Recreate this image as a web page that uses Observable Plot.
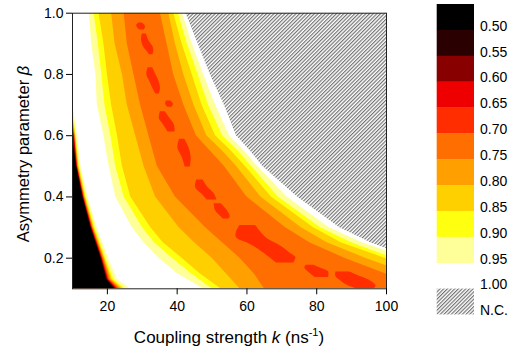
<!DOCTYPE html>
<html><head><meta charset="utf-8">
<script src="https://cdn.jsdelivr.net/npm/d3@7"></script>
<script src="https://cdn.jsdelivr.net/npm/@observablehq/plot@0.6"></script>
<style>
body{margin:0;background:#fff;font-family:"Liberation Sans",Arial,sans-serif;}
#wrap{position:relative;width:520px;height:353px;overflow:hidden;}
#wrap svg{position:absolute;left:0;top:0;}
</style></head><body><div id="wrap"></div>
<script>
// ---------- data ----------
const xTicks = [20, 40, 60, 80, 100];
const yTicks = [0.2, 0.4, 0.6, 0.8, 1.0];
const legendLabels = ["0.50","0.55","0.60","0.65","0.70","0.75","0.80","0.85","0.90","0.95","1.00"];
const legendColors = ["#000000","#2b0000","#880000","#ee0000","#ff2d00","#ff6e00","#ffa000","#ffd000","#ffff10","#ffff99"];

// trough (central band) boundaries: k at each beta
const betaTrough = [0.1, 0.15, 0.2, 0.25, 0.3, 0.4, 0.5, 0.55, 0.6, 0.7, 0.8, 0.9, 1.0];
const leftLY   = [47.5, 40, 34.8, 30.5, 27.1, 22.4, 20.5, 19.7, 19.0, 17.1, 16.7, 15.5, 14.8];
const leftY    = [50, 44, 38.6, 33.5, 30.0, 24.8, 22.4, 21.7, 21.0, 19.3, 18.4, 17.4, 16.2];
const leftGold = [52.5, 46.5, 41.4, 36.0, 32.4, 26.7, 24.3, 23.6, 22.9, 21.2, 20.0, 19.0, 17.6];
const leftOL   = [58, 54, 50, 45, 40.5, 33.8, 30.5, 29.3, 28.1, 25.7, 24.3, 22.2, 21.2];
const leftO    = [65, 62, 58, 53, 48.1, 39.5, 34.3, 33.1, 31.9, 29.5, 27.6, 25.7, 24.8];
const rightO    = [110, 99.5, 88, 78, 71.0, 60.0, 53.5, 49.5, 45.5, 41.9, 39.0, 37.1, 35.2];
const rightOL   = [118, 106, 94, 83, 75.5, 64.0, 57.0, 53.0, 48.5, 44.8, 41.9, 39.5, 37.6];
const rightGold = [125, 112, 99.5, 87, 79.0, 67.0, 59.5, 55.5, 51.0, 47.1, 44.3, 41.4, 39.0];
const rightY    = [130, 116, 102, 90, 81.0, 69.0, 61.3, 57.5, 53.0, 49.0, 46.0, 42.9, 40.3];
const rightLY   = [135, 120, 106, 93, 83.5, 71.5, 63.0, 59.3, 55.0, 51.0, 47.6, 44.3, 41.5];
const ncEdge    = [140, 125, 108, 95.5, 86.5, 74.5, 64.5, 61.0, 57.0, 53.5, 49.5, 46, 42.5];

// lower-left corner (low values) boundaries
const betaCorner = [0.1, 0.13, 0.2, 0.3, 0.4, 0.5, 0.6];
const cornerLY      = [26.5, 22.8, 20.3, 17.0, 14.4, 12.4, 11.4];
const cornerY       = [25.1, 21.9, 19.6, 16.5, 13.95, 12.0, 11.07];
const cornerGold    = [24.5, 21.4, 19.3, 16.2, 13.74, 11.83, 10.92];
const cornerOL      = [24.0, 21.1, 19.1, 16.0, 13.58, 11.69, 10.8];
const cornerO       = [23.6, 20.8, 18.9, 15.85, 13.44, 11.57, 10.7];
const cornerRO      = [23.1, 20.5, 18.7, 15.69, 13.3, 11.45, 10.6];
const cornerRed     = [22.8, 20.3, 18.5, 15.56, 13.2, 11.36, 10.52];
const cornerDarkRed = [22.5, 20.1, 18.4, 15.43, 13.1, 11.27, 10.44];
const cornerDark    = [22.2, 19.9, 18.25, 15.33, 13.0, 11.19, null];
const cornerBlack   = [21.9, 19.7, 18.1, 15.2, 12.9, 11.1, null];
const cornerTop     = [0.71, 0.69, 0.675, 0.665, 0.655, 0.64, 0.625, 0.61, 0.6, 0.59];

// red-orange patches (value < 0.70)
const patchId   = [1,1,1,1, 2,2,2,2,2, 3,3,3,3,3, 4,4,4, 5,5,5,5, 6,6,6,6, 7,7,7,7, 8,8,8,8, 9,9,9,9,9,9,9,9, 10,10,10,10, 11,11,11,11,11];
const patchBeta = [0.968,0.96,0.952,0.945, 0.932,0.91,0.89,0.875,0.864, 0.822,0.80,0.78,0.755,0.736, 0.713,0.703,0.693, 0.678,0.655,0.635,0.612, 0.588,0.56,0.53,0.498, 0.455,0.43,0.41,0.39, 0.378,0.355,0.335,0.328, 0.307,0.285,0.267,0.25,0.235,0.215,0.202,0.184, 0.177,0.168,0.155,0.137, 0.155,0.14,0.125,0.11,0.1];
const patchK1   = [29.0,28.4,28.7,29.5, 30.0,29.8,30.4,31.4,32.1, 31.7,31.3,32.0,33.0,33.9, 36.9,36.7,37.3, 35.2,34.9,36.1,37.4, 40.7,40.2,41.4,42.3, 45.6,45.3,47.0,48.6, 50.6,51.0,52.6,53.2, 58.0,57.0,57.0,60.0,62.5,65.0,66.5,68.5, 77.0,76.6,77.6,79.6, 85.5,85.5,87.0,89.0,91.5];
const patchK2   = [29.9,30.8,30.9,30.5, 31.2,31.9,33.1,33.3,33.0, 33.0,33.9,34.7,35.2,34.9, 38.1,38.9,38.5, 36.6,38.0,39.2,39.4, 42.2,43.4,44.0,43.8, 47.4,48.9,50.6,51.4, 52.6,54.4,55.2,54.8, 62.5,64.0,65.5,68.0,70.3,72.5,74.0,73.4, 79.2,81.0,83.4,83.4, 89.5,92.5,95.5,97.0,96.5];

// ---------- build tables ----------
const C = {black:0, dark:1, darkred:2, red:3, ro:4, o:5, ol:6, gold:7, y:8, ly:9};
const troughLevels = [
  [leftLY, rightLY, C.ly], [leftY, rightY, C.y], [leftGold, rightGold, C.gold],
  [leftOL, rightOL, C.ol], [leftO, rightO, C.o]
];
const cornerLevels = [cornerLY, cornerY, cornerGold, cornerOL, cornerO, cornerRO, cornerRed, cornerDarkRed, cornerDark, cornerBlack];
const cornerColorIdx = [C.ly, C.y, C.gold, C.ol, C.o, C.ro, C.red, C.darkred, C.dark, C.black];

const troughRows = (l, r) => betaTrough.map((b, i) => ({beta: b, k1: l[i], k2: r[i]}));
const cornerRows = (arr, top) => {
  const rows = [];
  betaCorner.forEach((b, i) => { if (arr[i] != null) rows.push({beta: b, k1: 10, k2: arr[i]}); });
  rows.push({beta: top, k1: 10, k2: 10});
  return rows;
};
const ncRows = betaTrough.map((b, i) => ({beta: b, k1: ncEdge[i], k2: 100})).filter(d => d.beta >= 0.2);
const patchRows = patchId.map((id, i) => ({id, beta: patchBeta[i], k1: patchK1[i], k2: patchK2[i]}));

const marks = [];
marks.push(() => {
  const defs = d3.create("svg:defs");
  const p = defs.append("pattern").attr("id", "hatchPlot").attr("patternUnits", "userSpaceOnUse")
    .attr("width", 2.6).attr("height", 2.6).attr("patternTransform", "rotate(45)");
  p.append("rect").attr("width", 2.6).attr("height", 2.6).attr("fill", "#fff");
  p.append("line").attr("x1", 0.6).attr("x2", 0.6).attr("y1", 0).attr("y2", 2.6).attr("stroke", "#6a6a6a").attr("stroke-width", 1.1);
  return defs.node();
});
marks.push(Plot.areaX(ncRows, {y: "beta", x1: "k1", x2: "k2", fill: "url(#hatchPlot)", clip: true}));
troughLevels.forEach(([l, r, c]) => {
  marks.push(Plot.areaX(troughRows(l, r), {y: "beta", x1: "k1", x2: "k2", fill: legendColors[c], clip: true}));
});
marks.push(Plot.areaX(patchRows, {y: "beta", x1: "k1", x2: "k2", z: "id", fill: legendColors[C.ro], curve: "catmull-rom", clip: true}));
cornerLevels.forEach((arr, i) => {
  marks.push(Plot.areaX(cornerRows(arr, cornerTop[i]), {y: "beta", x1: "k1", x2: "k2", fill: legendColors[cornerColorIdx[i]], clip: true}));
});
marks.push(Plot.frame({stroke: "#222", strokeWidth: 1}));
marks.push(Plot.axisX({ticks: xTicks, tickSize: 6, tickPadding: 6, fontSize: 14, label: null}));
marks.push(Plot.axisY({ticks: yTicks, tickFormat: ".1f", tickSize: 6, tickPadding: 3, fontSize: 14, label: null}));

const chart = Plot.plot({
  width: 520, height: 353,
  marginLeft: 72, marginRight: 134, marginTop: 12.7, marginBottom: 64.7,
  x: {domain: [10, 100]},
  y: {domain: [0.1, 1.0]},
  style: {fontFamily: "'Liberation Sans', Arial, sans-serif", fontSize: "14px", color: "#000", background: "transparent", overflow: "visible"},
  marks
});
document.getElementById("wrap").appendChild(chart);

// axis titles
const s = d3.select(chart);
const xl = s.append("text").attr("x", 229).attr("y", 343).attr("text-anchor", "middle")
  .attr("font-size", 17).attr("fill", "#000");
xl.append("tspan").text("Coupling strength ");
xl.append("tspan").attr("font-style", "italic").text("k");
xl.append("tspan").text(" (ns");
xl.append("tspan").attr("font-size", 11).attr("dy", -7).text("-1");
xl.append("tspan").attr("dy", 7).text(")");
const yl = s.append("text").attr("transform", "translate(29,154) rotate(-90)").attr("text-anchor", "middle")
  .attr("font-size", 16.5).attr("fill", "#000");
yl.append("tspan").text("Asymmetry parameter ");
yl.append("tspan").attr("font-style", "italic").text("β");

// legend
const lg = d3.select("#wrap").append("svg").attr("width", 520).attr("height", 353)
  .style("font-family", "'Liberation Sans', Arial, sans-serif").style("pointer-events", "none");
const defs = lg.append("defs");
const hp = defs.append("pattern").attr("id", "hatchLeg").attr("patternUnits", "userSpaceOnUse")
  .attr("width", 2.6).attr("height", 2.6).attr("patternTransform", "rotate(45)");
hp.append("rect").attr("width", 2.6).attr("height", 2.6).attr("fill", "#fff");
hp.append("line").attr("x1", 0.6).attr("x2", 0.6).attr("y1", 0).attr("y2", 2.6).attr("stroke", "#6a6a6a").attr("stroke-width", 1.1);
const bandH = 25.87, lx = 436.7, lw = 37.3, ly0 = 4;
lg.selectAll("rect.band").data(legendColors).join("rect").attr("class", "band")
  .attr("x", lx).attr("y", (d, i) => ly0 + i * bandH).attr("width", lw).attr("height", bandH + 0.3).attr("fill", d => d);
lg.append("rect").attr("x", lx).attr("y", ly0 + 11 * bandH).attr("width", lw).attr("height", bandH).attr("fill", "url(#hatchLeg)");
lg.selectAll("text.lab").data(legendLabels).join("text").attr("class", "lab")
  .attr("x", 480).attr("y", (d, i) => ly0 + (i + 1) * bandH + 0.8).attr("font-size", 14).attr("fill", "#000").text(d => d);
lg.append("text").attr("x", 480).attr("y", ly0 + 12 * bandH + 0.8).attr("font-size", 14).attr("fill", "#000").text("N.C.");
</script></body></html>
